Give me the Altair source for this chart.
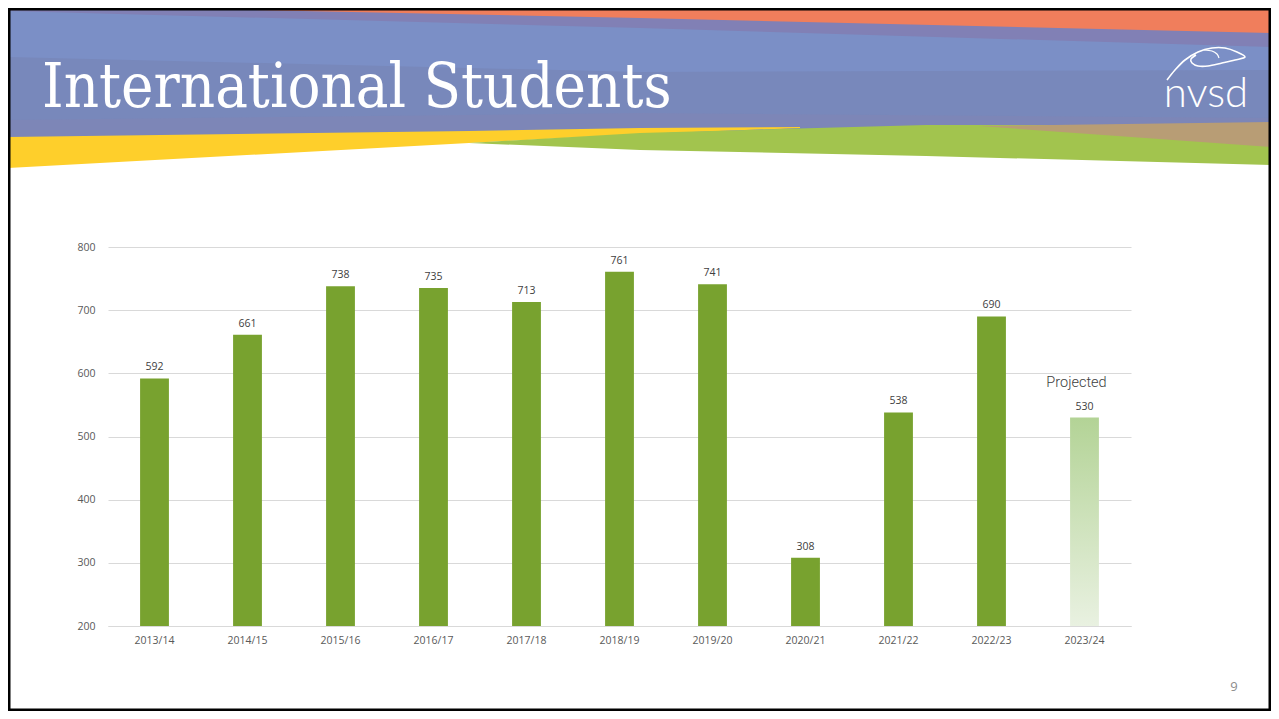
import altair as alt
import pandas as pd

# ---- chart data ----
years = ["2013/14", "2014/15", "2015/16", "2016/17", "2017/18", "2018/19",
         "2019/20", "2020/21", "2021/22", "2022/23", "2023/24"]
students = [592, 661, 738, 735, 713, 761, 741, 308, 538, 690, 530]
status = ["Actual"] * 10 + ["Projected"]

df = pd.DataFrame({"year": years, "students": students, "status": status})

# ---- layout (page pixels) ----
PAGE_W, PAGE_H = 1263, 703          # svg size (page minus 8px margin)
OX, OY = 108, 247                   # plot origin on the page
PW, PH = 1023, 379                  # plot area


def px(v):
    return v - OX


def py(v):
    return v - OY


# decorative banner stripes: (page x, top y, bottom y)
def stripe(points, color, opacity=1.0):
    d = pd.DataFrame({
        "x": [px(p[0]) for p in points],
        "y": [py(p[1]) for p in points],
        "y2": [py(p[2]) for p in points],
    })
    return alt.Chart(d).mark_area(color=color, opacity=opacity, interpolate="linear").encode(
        x=alt.X("x:Q", scale=None, axis=None),
        y=alt.Y("y:Q", scale=None, axis=None),
        y2="y2:Q",
    )


L, R = 8, 1271
deco = [
    stripe([(L, 8, 140), (R, 8, 128)], "#7b8fc6"),
    stripe([(L, 8, 11), (640, 8, 28), (R, 8, 47)], "#8180b5"),
    stripe([(155, 8, 8), (640, 8, 18), (R, 8, 33)], "#f07e5c"),
    stripe([(L, 57, 140), (640, 72, 130), (R, 70, 126)], "#7888bb"),
    stripe([(L, 120, 138), (640, 113, 129), (R, 118, 124)], "#7e86b6", 0.8),
    stripe([(L, 137, 168), (469, 131, 143), (640, 128, 134), (800, 127, 128)], "#fecf2b"),
    stripe([(469, 143, 143), (640, 133, 150), (926, 125, 156), (R, 125, 165)], "#a2c44e"),
    stripe([(979, 126, 126), (R, 122, 147)], "#b89d75"),
]


# leaf drawing of the logo (open strokes)
def stroke(xs, ys, width=1.6):
    d = pd.DataFrame({"x": [px(v) for v in xs], "y": [py(v) for v in ys],
                      "o": list(range(len(xs)))})
    return alt.Chart(d).mark_line(color="white", strokeWidth=width,
                                  interpolate="cardinal").encode(
        x=alt.X("x:Q", scale=None, axis=None),
        y=alt.Y("y:Q", scale=None, axis=None),
        order="o:Q",
    )


leaf = [
    stroke([1167, 1175, 1185, 1198, 1212, 1225, 1237, 1245, 1235, 1222, 1208, 1198, 1192, 1191, 1196],
           [80, 70, 60, 52, 48, 48, 52, 57, 60, 63, 66, 66, 63, 59, 55]),
    stroke([1204, 1212, 1217, 1219], [50, 51, 54, 58], 1.2),
]

title = alt.Chart(pd.DataFrame({"t": ["International Students"]})).mark_text(
    align="left", baseline="alphabetic", font="DejaVu Serif Condensed, DejaVu Serif",
    fontSize=61, color="white",
).encode(x=alt.value(px(42)), y=alt.value(py(107)), text="t:N")

logo = alt.Chart(pd.DataFrame({"t": ["nvsd"]})).mark_text(
    align="center", baseline="alphabetic", font="Lato", fontWeight=300,
    fontSize=42, color="white",
).encode(x=alt.value(px(1206)), y=alt.value(py(107)), text="t:N")

page_no = alt.Chart(pd.DataFrame({"t": ["9"]})).mark_text(
    align="center", baseline="alphabetic", font="Open Sans",
    fontSize=13, color="#8c8c8c",
).encode(x=alt.value(px(1234)), y=alt.value(py(691)), text="t:N")

border = alt.Chart(pd.DataFrame({"a": [0]})).mark_rect(
    fill=None, stroke="black", strokeWidth=3,
).encode(
    x=alt.value(-OX + 8 + 1), x2=alt.value(PAGE_W - (OX - 8) - 1),
    y=alt.value(-OY + 8 + 1), y2=alt.value(PAGE_H - (OY - 8) - 1),
)

# ---- the bar chart ----
xenc = alt.X("year:N", sort=years, title=None,
             scale=alt.Scale(paddingInner=0.69, paddingOuter=0.345),
             axis=alt.Axis(labelAngle=0, ticks=False, domainColor="#d9d9d9",
                           labelColor="#595959", labelFont="Open Sans",
                           labelFontSize=10.5, labelPadding=9))
yenc = alt.Y("students:Q", title=None,
             scale=alt.Scale(domain=[200, 800], zero=False, nice=False),
             axis=alt.Axis(values=[200, 300, 400, 500, 600, 700, 800], ticks=False,
                           domain=False, gridColor="#d9d9d9", labelColor="#595959",
                           labelFont="Open Sans", labelFontSize=10.5, labelPadding=13))

base = alt.Chart(df)

actual = base.transform_filter(alt.datum.status == "Actual").mark_bar(color="#78a22f").encode(
    x=xenc, y=yenc, y2=alt.datum(200)
)

gradient = alt.LinearGradient(
    gradient="linear",
    stops=[alt.GradientStop(color="#b3d396", offset=0),
           alt.GradientStop(color="#e9f1e1", offset=1)],
    x1=0, x2=0, y1=0, y2=1,
)
projected = base.transform_filter(alt.datum.status == "Projected").mark_bar(color=gradient).encode(
    x=xenc, y=yenc, y2=alt.datum(200)
)

labels = base.mark_text(baseline="alphabetic", dy=-8, font="Open Sans",
                        fontSize=10.5, color="#404040").encode(
    x=xenc, y=yenc, text="students:Q"
)

proj_label = base.transform_filter(alt.datum.status == "Projected").transform_calculate(
    lab="'Projected'"
).mark_text(baseline="alphabetic", dy=-31, dx=-8, font="Roboto", fontWeight=300,
            fontSize=14.5, color="#404040").encode(
    x=xenc, y=yenc, text="lab:N"
)

bars = alt.layer(actual, projected, labels, proj_label)

chart = alt.layer(*deco, *leaf, title, logo, page_no, border, bars).resolve_scale(
    x="independent", y="independent"
).properties(
    width=PW, height=PH,
    autosize=alt.AutoSizeParams(type="none"),
    padding={"left": OX - 8, "top": OY - 8,
             "right": PAGE_W - (OX - 8) - PW, "bottom": PAGE_H - (OY - 8) - PH},
    background="white",
).configure_view(stroke=None)

chart.save("out.html", embed_options={"renderer": "svg", "actions": False})
